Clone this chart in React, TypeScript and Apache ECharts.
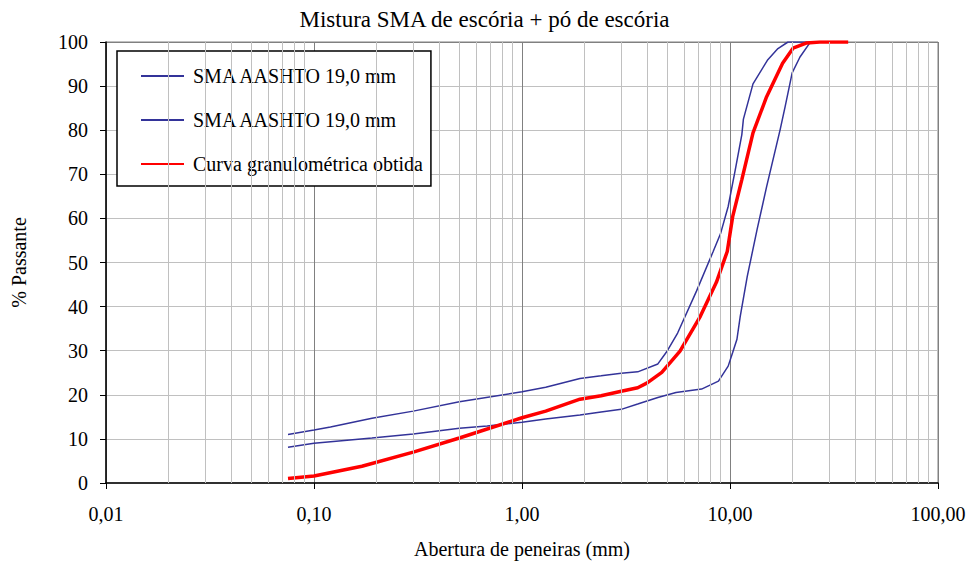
import React, { useEffect, useRef } from "react";
import * as echarts from "echarts";

const TITLE = "Mistura SMA de escória + pó de escória";
const X_NAME = "Abertura de peneiras (mm)";
const Y_NAME = "% Passante";
const NAME_UPPER = "SMA AASHTO 19,0 mm";
const NAME_LOWER = "SMA AASHTO 19,0 mm ";
const NAME_RED = "Curva granulométrica obtida";

const upperSizes = [0.075, 0.1, 0.12, 0.19, 0.3, 0.5, 1.0, 1.3, 1.9, 2.4, 3.0, 3.6, 4.5, 5.0, 5.6, 6.9, 8.3, 9.0, 9.8, 10.6, 11.4, 11.6, 12.9, 15.2, 17.0, 19.0, 25.0];
const upperPass = [11.0, 12.0, 12.7, 14.7, 16.3, 18.4, 20.7, 21.7, 23.7, 24.3, 24.9, 25.2, 27.0, 30.0, 34.0, 43.5, 52.5, 56.5, 62.7, 71.0, 79.0, 82.5, 90.5, 96.0, 98.5, 100, 100];

const lowerSizes = [0.075, 0.1, 0.19, 0.3, 0.5, 0.68, 1.0, 1.3, 1.9, 2.4, 3.0, 3.6, 4.5, 5.5, 7.3, 8.8, 9.8, 10.3, 10.8, 11.2, 12.1, 13.5, 15.0, 17.4, 18.4, 19.9, 21.7, 24.2, 25.0];
const lowerPass = [8.1, 9.0, 10.2, 11.1, 12.4, 12.9, 13.8, 14.5, 15.4, 16.1, 16.7, 17.9, 19.4, 20.5, 21.3, 23.1, 26.5, 29.6, 32.6, 37.8, 46.8, 57.5, 67.2, 80.0, 85.3, 93.0, 96.6, 99.8, 100];

const redSizes = [0.075, 0.1, 0.17, 0.3, 0.5, 1.0, 1.3, 1.9, 2.4, 3.0, 3.6, 4.0, 4.7, 5.75, 7.2, 8.6, 9.7, 10.3, 11.4, 12.9, 15.0, 17.9, 20.1, 23.4, 27.0, 37.0];
const redPass = [1.0, 1.6, 3.8, 7.0, 10.2, 14.8, 16.3, 19.0, 19.8, 20.8, 21.6, 22.7, 25.1, 29.9, 37.8, 45.5, 52.5, 60.4, 68.8, 79.4, 87.6, 95.2, 98.6, 99.8, 100, 100];

const minorGridX = [
  0.02, 0.03, 0.04, 0.05, 0.06, 0.07, 0.08, 0.09,
  0.2, 0.3, 0.4, 0.5, 0.6, 0.7, 0.8, 0.9,
  2, 3, 4, 5, 6, 7, 8, 9,
  20, 30, 40, 50, 60, 70, 80, 90,
];

const FONT = "Liberation Serif, Times New Roman, serif";

const pairs = (xs: number[], ys: number[]) => xs.map((x, i) => [x, ys[i]]);

export default function App() {
  const ref = useRef<HTMLDivElement>(null);
  useEffect(() => {
    if (!ref.current) return;
    const chart = echarts.init(ref.current, null, { renderer: "svg" });
    const ySplitColors = Array.from({ length: 11 }, (_, i) => (i === 10 ? "#808080" : "#c0c0c0"));
    const hiddenSymbol = { opacity: 0, color: "rgba(0,0,0,0)", borderWidth: 0 };
    chart.setOption({
      animation: false,
      backgroundColor: "#ffffff",
      textStyle: { fontFamily: FONT, color: "#000" },
      title: {
        text: TITLE,
        left: "center",
        top: 3,
        textStyle: { fontFamily: FONT, fontSize: 23, fontWeight: "normal", color: "#000" },
      },
      legend: {
        data: [
          { name: NAME_UPPER, itemStyle: hiddenSymbol },
          { name: NAME_LOWER, itemStyle: hiddenSymbol },
          { name: NAME_RED, itemStyle: hiddenSymbol },
        ],
        orient: "vertical",
        left: 117,
        top: 51,
        padding: [15, 8, 12, 23],
        itemWidth: 43,
        itemHeight: 14,
        itemGap: 24,
        borderColor: "#000",
        borderWidth: 1.5,
        backgroundColor: "#fff",
        selectedMode: false,
        itemStyle: hiddenSymbol,
        textStyle: { fontFamily: FONT, fontSize: 20, lineHeight: 20, color: "#000", padding: [0, 0, 0, 4] },
      },
      grid: {
        left: 106,
        right: 31,
        top: 42,
        bottom: 80,
        show: true,
        borderColor: "#808080",
        borderWidth: 1,
        backgroundColor: "transparent",
      },
      xAxis: {
        type: "log",
        logBase: 10,
        min: 0.01,
        max: 100,
        name: X_NAME,
        nameLocation: "middle",
        nameGap: 56,
        nameTextStyle: { fontFamily: FONT, fontSize: 20, color: "#000" },
        axisLine: { lineStyle: { color: "#000", width: 1.5 } },
        axisTick: { show: true, length: 6, lineStyle: { color: "#000" } },
        axisLabel: {
          fontFamily: FONT,
          fontSize: 20,
          color: "#000",
          margin: 21,
          showMinLabel: true,
          showMaxLabel: true,
          formatter: (v: number) => v.toFixed(2).replace(".", ","),
        },
        splitLine: { show: true, lineStyle: { color: "#808080", width: 1 } },
        minorTick: { show: false },
        minorSplitLine: { show: false },
      },
      yAxis: {
        type: "value",
        min: 0,
        max: 100,
        interval: 10,
        name: Y_NAME,
        nameLocation: "middle",
        nameGap: 77,
        nameRotate: 90,
        nameTextStyle: { fontFamily: FONT, fontSize: 20, color: "#000" },
        axisLine: { show: true, lineStyle: { color: "#000", width: 1.5 } },
        axisTick: { show: true, length: 6, lineStyle: { color: "#000" } },
        axisLabel: { fontFamily: FONT, fontSize: 20, color: "#000", margin: 18 },
        splitLine: { show: true, lineStyle: { color: ySplitColors, width: 1 } },
      },
      series: [
        {
          type: "line",
          name: "grid-minor",
          data: [],
          silent: true,
          z: 1,
          markLine: {
            silent: true,
            symbol: ["none", "none"],
            label: { show: false },
            lineStyle: { color: "#c0c0c0", width: 1, type: "solid" },
            emphasis: { disabled: true },
            data: minorGridX.map((v) => ({ xAxis: v })),
          },
        },
        {
          type: "line",
          name: NAME_UPPER,
          data: pairs(upperSizes, upperPass),
          symbol: "none",
          showSymbol: false,
          z: 3,
          lineStyle: { color: "#333399", width: 1.5 },
          itemStyle: { color: "#333399" },
        },
        {
          type: "line",
          name: NAME_LOWER,
          data: pairs(lowerSizes, lowerPass),
          symbol: "none",
          showSymbol: false,
          z: 3,
          lineStyle: { color: "#333399", width: 1.5 },
          itemStyle: { color: "#333399" },
        },
        {
          type: "line",
          name: NAME_RED,
          data: pairs(redSizes, redPass),
          symbol: "none",
          showSymbol: false,
          z: 4,
          lineStyle: { color: "#ff0000", width: 3.5 },
          itemStyle: { color: "#ff0000" },
        },
      ],
    });
    return () => chart.dispose();
  }, []);
  return (
    <div
      ref={ref}
      style={{ position: "absolute", left: 0, top: 0, width: 969, height: 564, background: "#fff" }}
    />
  );
}
